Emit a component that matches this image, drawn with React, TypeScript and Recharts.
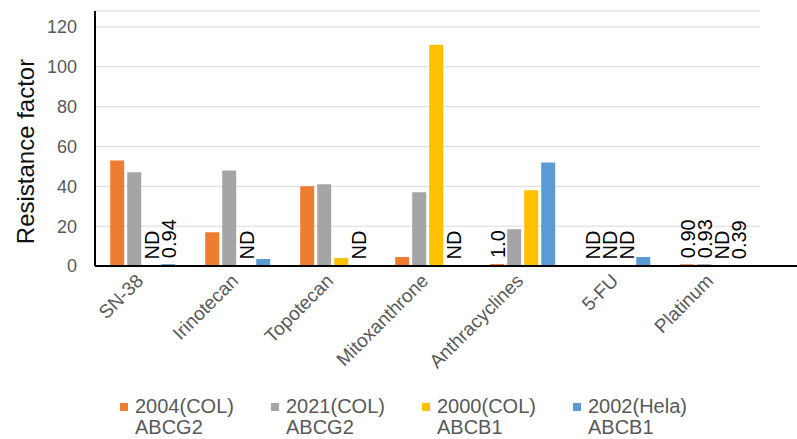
import { BarChart, Bar, XAxis, YAxis, CartesianGrid, LabelList } from 'recharts'

const categories = ['SN-38', 'Irinotecan', 'Topotecan', 'Mitoxanthrone', 'Anthracyclines', '5-FU', 'Platinum']

// ND (not determined) entries are kept as 0 and flagged in the label arrays
const col2004 = [53, 17, 40, 4.5, 1.0, 0, 0.9]
const col2021 = [47, 48, 41, 37, 18.5, 0, 0.93]
const col2000 = [0, 0, 4, 111, 38, 0, 0]
const hela2002 = [0.94, 3.5, 0, 0, 52, 4.5, 0.39]

const lab2004 = ['', '', '', '', '1.0', 'ND', '0.90']
const lab2021 = ['', '', '', '', '', 'ND', '0.93']
const lab2000 = ['ND', 'ND', '', '', '', 'ND', 'ND']
const labHela = ['0.94', '', 'ND', 'ND', '', '', '0.39']

const yTicks = [0, 20, 40, 60, 80, 100, 120]

const series = [
  { key: 'c2004', label: 'l2004', name: '2004(COL)', sub: 'ABCG2', color: '#ED7D31' },
  { key: 'c2021', label: 'l2021', name: '2021(COL)', sub: 'ABCG2', color: '#A5A5A5' },
  { key: 'c2000', label: 'l2000', name: '2000(COL)', sub: 'ABCB1', color: '#FFC000' },
  { key: 'h2002', label: 'lh2002', name: '2002(Hela)', sub: 'ABCB1', color: '#5B9BD5' },
]

const data = categories.map((name, i) => ({
  name,
  c2004: col2004[i],
  c2021: col2021[i],
  c2000: col2000[i],
  h2002: hela2002[i],
  l2004: lab2004[i],
  l2021: lab2021[i],
  l2000: lab2000[i],
  lh2002: labHela[i],
}))

const FONT = '"Liberation Sans", Arial, sans-serif'

const CategoryTick = ({ x, y, payload }: any) => (
  <g transform={`translate(${x + 2},${y + 16})`}>
    <text textAnchor="end" transform="rotate(-45)" fill="#595959" fontSize={19} fontFamily={FONT}>
      {payload.value}
    </text>
  </g>
)

const YTitle = ({ viewBox }: any) => {
  const cx = viewBox.x + 25
  const cy = viewBox.y + viewBox.height / 2 + 13
  return (
    <text x={cx} y={cy} transform={`rotate(-90, ${cx}, ${cy})`} textAnchor="middle"
      dominantBaseline="central" fill="#111" fontSize={24} fontFamily={FONT}>
      Resistance factor
    </text>
  )
}

// recharts drops zero-height bars, so ND bars get a hairline minPointSize to keep their labels
const VerticalLabel = ({ x, y, width, value }: any) => {
  if (!value) return null
  const cx = x + width / 2 + 1
  const cy = y - 6
  return (
    <text x={cx} y={cy} transform={`rotate(-90, ${cx}, ${cy})`} textAnchor="start"
      dominantBaseline="central" fill="#000" fontSize={20} fontFamily={FONT}>
      {value}
    </text>
  )
}

export default function App() {
  return (
    <div style={{ position: 'relative', width: 797, height: 439, background: '#fff', fontFamily: FONT }}>
      <style>{'body{margin:0}'}</style>
      <BarChart
        width={797}
        height={439}
        data={data}
        margin={{ top: 11, right: 37, bottom: 0, left: 0 }}
        barCategoryGap="16%"
        barGap={3}
      >
        <CartesianGrid horizontal vertical={false} stroke="#D9D9D9" strokeWidth={1} />
        <XAxis
          dataKey="name"
          height={173}
          tickSize={0}
          tickMargin={0}
          tickLine={false}
          axisLine={{ stroke: '#000', strokeWidth: 2 }}
          tick={<CategoryTick />}
          interval={0}
        />
        <YAxis
          width={95}
          domain={[0, 128]}
          ticks={yTicks}
          allowDataOverflow
          tickSize={0}
          tickMargin={18}
          tickLine={false}
          axisLine={{ stroke: '#000', strokeWidth: 2 }}
          tick={{ fill: '#595959', fontSize: 18, fontFamily: FONT }}
          label={<YTitle />}
        />
        {series.map((s) => (
          <Bar key={s.key} dataKey={s.key} name={s.name} fill={s.color} minPointSize={0.5} isAnimationActive={false}>
            <LabelList dataKey={s.label} content={<VerticalLabel />} />
          </Bar>
        ))}
      </BarChart>
      {/* axis line runs on past the last category, as in the original */}
      <div style={{ position: 'absolute', left: 760, top: 265, width: 37, height: 2, background: '#000' }} />
      <div style={{ position: 'absolute', left: 120, top: 396, display: 'flex' }}>
        {series.map((s) => (
          <div key={s.key} style={{ width: 151, display: 'flex', alignItems: 'flex-start' }}>
            <div style={{ width: 8, height: 8, background: s.color, marginTop: 7, marginRight: 7, flex: 'none' }} />
            <div style={{ color: '#595959', fontSize: 20, lineHeight: '21px', whiteSpace: 'nowrap' }}>
              <div>{s.name}</div>
              <div>{s.sub}</div>
            </div>
          </div>
        ))}
      </div>
    </div>
  )
}
